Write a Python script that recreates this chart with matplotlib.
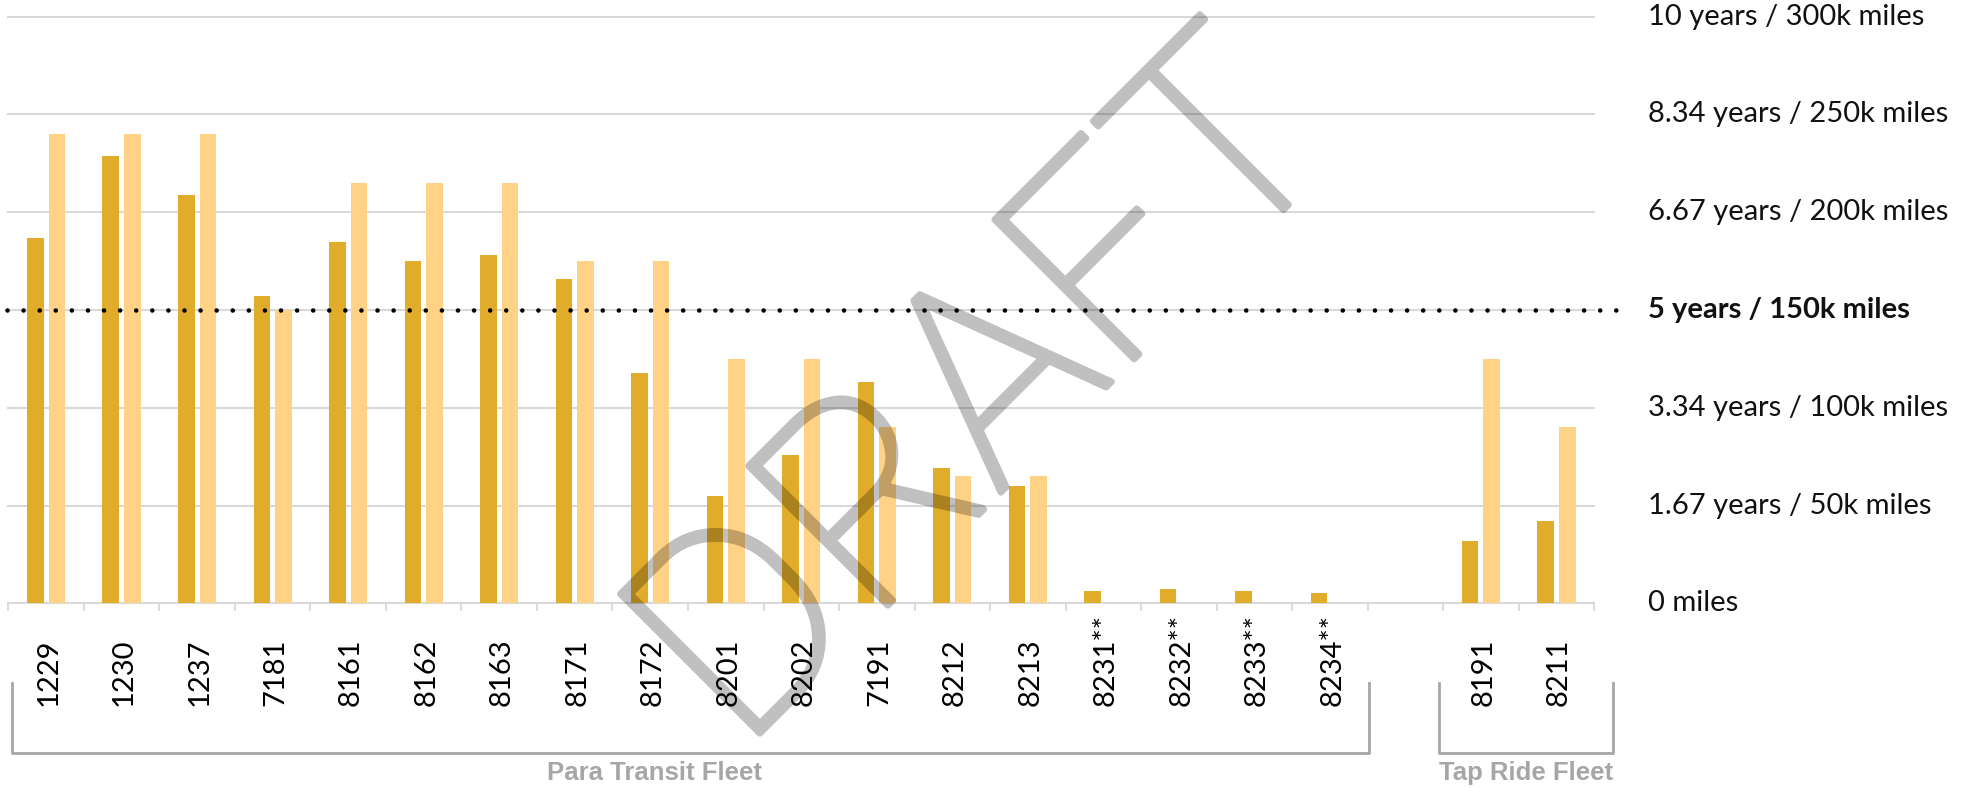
import numpy as np
import matplotlib
matplotlib.use('Agg')
import matplotlib.pyplot as plt
import matplotlib.patheffects as pe
from matplotlib.transforms import blended_transform_factory

plt.rcParams['font.family'] = ['Lato', 'DejaVu Sans']

# vehicle ids ('' leaves a gap between the two fleets)
vehicles = ['1229', '1230', '1237', '7181', '8161', '8162', '8163', '8171',
            '8172', '8201', '8202', '7191', '8212', '8213', '8231**',
            '8232**', '8233**', '8234**', '', '8191', '8211']
# odometer miles
miles = [187000, 229000, 209000, 157000, 185000, 175000, 178000, 166000,
         118000, 55000, 76000, 113000, 69000, 60000, 6500, 7100, 6100, 5100,
         0, 32000, 42000]
# vehicle age in years
age_years = [8, 8, 8, 5, 7.17, 7.17, 7.17, 5.83, 5.83, 4.17, 4.17, 3, 2.17,
             2.17, 0, 0, 0, 0, 0, 4.17, 3]

# 10 years of service == 300k miles
miles_per_year = 30000
scale_ticks = [0, 50000, 100000, 150000, 200000, 250000, 300000]
scale_labels = ['0 miles', '1.67 years / 50k miles', '3.34 years / 100k miles',
                '5 years / 150k miles', '6.67 years / 200k miles',
                '8.34 years / 250k miles', '10 years / 300k miles']
threshold = 150000

fleets = ['Para Transit Fleet', 'Tap Ride Fleet']
fleet_left = [-0.45, 18.45]
fleet_right = [17.52, 20.75]
fleet_label_x = [8.05, 19.6]

dark = '#E1AC29'
light = '#FFD285'
grid_c = '#D9D9D9'
bracket_c = '#A6A6A6'


def fade(img, dpi):
    # draw the watermark as one translucent layer
    out = img.copy()
    out[..., 3] *= 0.25
    return out, 0, 0


fig = plt.figure(figsize=(19.77, 7.88), dpi=100)
ax = fig.add_axes([0.0042, 0.2344, 0.8022, 0.7444])

x = np.arange(len(vehicles))
w, off = 0.22, 0.143
ax.bar(x - off, miles, w, color=dark, zorder=2)
ax.bar(x + off, np.array(age_years) * miles_per_year, w, color=light, zorder=2)

for yv in scale_ticks:
    ax.axhline(yv, color=grid_c, lw=1.5, zorder=1, clip_on=False)

# 5 year / 150k threshold, runs out past the plot towards its label
hx = blended_transform_factory(ax.transAxes, ax.transData)
ax.plot([-0.001, 1.0203], [threshold, threshold], transform=hx, color='k',
        lw=3.3, dashes=(0.01, 3.5), dash_capstyle='round', clip_on=False,
        zorder=4)

ax.set_xlim(-0.5, len(vehicles) - 0.5)
ax.set_ylim(0, 300000)
ax.set_xticks(np.arange(-0.5, len(vehicles)), labels=[])
ax.tick_params(axis='x', length=6, width=1.3, color=grid_c)
ax.set_yticks([])
for s in ax.spines.values():
    s.set_visible(False)

# vehicle labels, bottom aligned
tx = blended_transform_factory(ax.transData, fig.transFigure)
for xi, name in zip(x, vehicles):
    ax.text(xi, 0.104, name, transform=tx, rotation=90, rotation_mode='anchor',
            ha='left', va='center_baseline', fontsize=21, color='k')

# right hand scale
ty = blended_transform_factory(fig.transFigure, ax.transData)
for yv, lab in zip(scale_ticks, scale_labels):
    ax.text(0.8336, yv, lab, transform=ty, ha='left', va='center',
            fontsize=21, color='#111111',
            fontweight='bold' if yv == threshold else 'normal')

# fleet brackets
for name, x0, x1, lx in zip(fleets, fleet_left, fleet_right, fleet_label_x):
    ax.plot([x0, x0, x1, x1], [0.1336, 0.0444, 0.0444, 0.1336], transform=tx,
            color=bracket_c, lw=2, clip_on=False)
    ax.text(lx, 0.019, name, transform=tx, ha='center', va='center',
            fontsize=18.5, fontweight='bold', color=bracket_c,
            family=['Liberation Sans Narrow', 'Liberation Sans'])

# watermark; light face thickened with a stroke, faded as a whole
wm = fig.text(0.5274, 0.4280, 'DRAFT', rotation=45, rotation_mode='anchor',
              ha='center', va='baseline', fontsize=200, color='k',
              family=['Roboto', 'Lato'], fontweight='light', zorder=10,
              path_effects=[pe.Stroke(linewidth=4.5, foreground='k')])
wm.set_agg_filter(fade)

fig.savefig('out.png', dpi=100)
